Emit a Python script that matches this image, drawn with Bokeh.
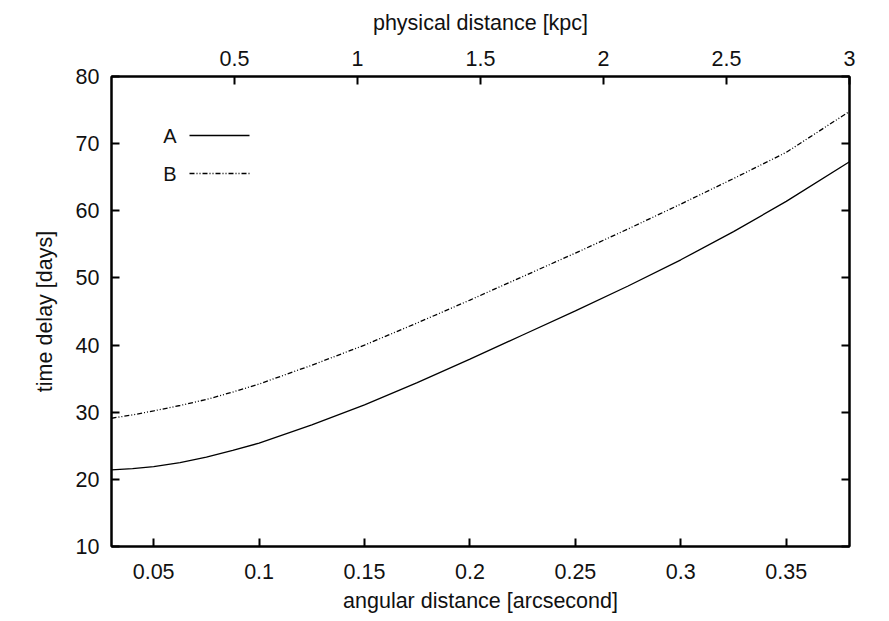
from bokeh.plotting import figure
from bokeh.models import (LinearAxis, Range1d, FixedTicker, Label, Arrow)
from bokeh.embed import file_html
from bokeh.resources import INLINE

# angular distance [arcsecond]
x_arcsec = [0.03, 0.04, 0.05, 0.0625, 0.075, 0.0875, 0.1, 0.125, 0.15, 0.175,
            0.2, 0.225, 0.25, 0.275, 0.3, 0.325, 0.35, 0.38]
# time delay [days]
delay_A = [21.4, 21.6, 21.9, 22.5, 23.3, 24.3, 25.4, 28.1, 31.1, 34.4,
           37.9, 41.5, 45.1, 48.8, 52.7, 56.9, 61.4, 67.3]
delay_B = [29.1, 29.6, 30.2, 31.0, 31.9, 33.0, 34.2, 37.0, 40.0, 43.3,
           46.7, 50.2, 53.7, 57.3, 61.0, 64.8, 68.7, 74.8]

x_ticks = [0.05, 0.1, 0.15, 0.2, 0.25, 0.3, 0.35]
y_ticks = [10, 20, 30, 40, 50, 60, 70, 80]
kpc_ticks = [0.5, 1, 1.5, 2, 2.5, 3]
series_names = ["A", "B"]

FONT = "Liberation Sans"
FS = "21.5px"

p = figure(width=889, height=621, output_backend="svg", toolbar_location=None,
           x_range=Range1d(0.03, 0.38), y_range=Range1d(10, 80),
           min_border_left=111, min_border_right=40, min_border_top=76,
           min_border_bottom=75)
p.extra_x_ranges = {"kpc": Range1d(0, 3)}
p.xgrid.visible = False
p.ygrid.visible = False
p.outline_line_color = "black"
p.outline_line_width = 2
p.background_fill_color = "white"
p.border_fill_color = "white"

def style(ax, show_labels=True):
    ax.major_tick_in = 8
    ax.major_tick_out = 0
    ax.minor_tick_line_color = None
    ax.axis_line_width = 2
    ax.axis_line_color = "black"
    ax.major_tick_line_width = 2
    ax.major_tick_line_color = "black"
    ax.major_label_text_font = FONT
    ax.major_label_text_font_size = FS
    ax.major_label_text_color = "#111111" if show_labels else None
    ax.axis_label_text_font = FONT
    ax.axis_label_text_font_size = FS
    ax.axis_label_text_font_style = "normal"
    ax.axis_label_text_color = "#111111"

xa = p.xaxis[0]
xa.ticker = FixedTicker(ticks=x_ticks)
xa.axis_label = "angular distance [arcsecond]"
style(xa)
xa.major_label_standoff = 17
xa.axis_label_standoff = 7

ya = p.yaxis[0]
ya.ticker = FixedTicker(ticks=y_ticks)
ya.axis_label = "time delay [days]"
style(ya)
ya.major_label_standoff = 12
ya.axis_label_standoff = 16

top = LinearAxis(x_range_name="kpc", ticker=FixedTicker(ticks=kpc_ticks),
                 axis_label="physical distance [kpc]")
style(top)
top.major_label_standoff = 11
top.axis_label_standoff = 13
p.add_layout(top, "above")

right = LinearAxis(ticker=FixedTicker(ticks=y_ticks))
style(right, show_labels=False)
p.add_layout(right, "right")

p.line(x_arcsec, delay_A, line_color="black", line_width=1.3)
p.line(x_arcsec, delay_B, line_color="black", line_width=1.3,
       line_dash="5 2 1 2 1 2")

# legend (gnuplot style: label left of sample)
dashes = ["solid", "5 2 1 2 1 2"]
legend_y = [411, 373]
for i, name in enumerate(series_names):
    ys = legend_y[i]
    p.add_layout(Label(x=65, y=ys, x_units="screen", y_units="screen",
                       text=name, text_font=FONT, text_font_size="20px",
                       text_color="#111111", text_align="right",
                       text_baseline="middle"))
    p.add_layout(Arrow(end=None, x_start=78, y_start=ys, x_end=138, y_end=ys,
                       start_units="screen", end_units="screen",
                       line_color="black", line_width=1.3,
                       line_dash=dashes[i]))

open("out.html", "w").write(file_html(p, INLINE))
